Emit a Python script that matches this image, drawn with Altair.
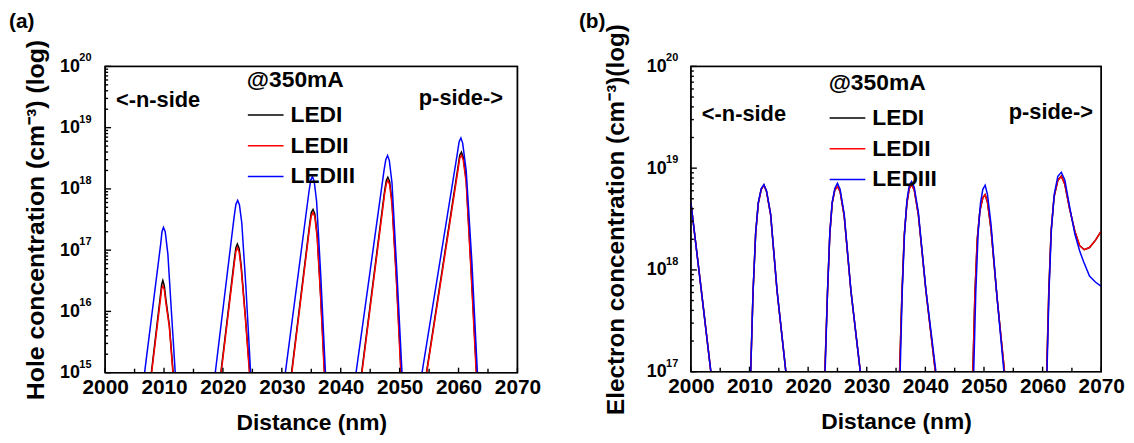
import altair as alt
import pandas as pd

FONT = "Liberation Sans"
SERIES = ["LEDI", "LEDII", "LEDIII"]
COLORS = ["#000000", "#ff0000", "#0000ff"]

# ---------------- Panel (a): hole concentration (cm^-3), one list per well ----------------
hole_x_LEDI = [
    [2007.85, 2009.4, 2009.6, 2009.8, 2010.05, 2010.3, 2010.9, 2011.55],
    [2019.65, 2021.95, 2022.2, 2022.45, 2022.75, 2023.1, 2023.8, 2024.55],
    [2031.65, 2034.75, 2035.0, 2035.3, 2035.6, 2036.0, 2036.6, 2037.25],
    [2043.55, 2047.45, 2047.75, 2048.0, 2048.3, 2048.7, 2049.45, 2050.25],
    [2054.55, 2059.9, 2060.2, 2060.5, 2060.8, 2061.3, 2062.15, 2063.05],
]
hole_y_LEDI = [
    [1e15, 1.86e16, 2.75e16, 3.2e16, 2.6e16, 1.6e16, 6.0e15, 1e15],
    [1e15, 7.2e16, 1.1e17, 1.26e17, 1.07e17, 5.6e16, 8.5e15, 1e15],
    [1e15, 2.8e17, 4.1e17, 4.6e17, 3.9e17, 1.78e17, 1.74e16, 1e15],
    [1e15, 9.3e17, 1.38e18, 1.55e18, 1.32e18, 6.3e17, 3.55e16, 1e15],
    [1e15, 2.24e18, 3.55e18, 4.0e18, 3.3e18, 1.41e18, 4.5e16, 1e15],
]
hole_x_LEDII = [
    [2007.9, 2009.4, 2009.6, 2009.8, 2010.05, 2010.3, 2010.9, 2011.5],
    [2019.7, 2021.95, 2022.2, 2022.45, 2022.75, 2023.1, 2023.8, 2024.5],
    [2031.7, 2034.75, 2035.0, 2035.3, 2035.6, 2036.0, 2036.6, 2037.2],
    [2043.6, 2047.45, 2047.75, 2048.0, 2048.3, 2048.7, 2049.45, 2050.2],
    [2054.6, 2059.9, 2060.2, 2060.5, 2060.8, 2061.3, 2062.15, 2063.0],
]
hole_y_LEDII = [
    [1e15, 1.6e16, 2.35e16, 2.6e16, 2.25e16, 1.4e16, 5.6e15, 1e15],
    [1e15, 6.3e16, 9.5e16, 1.1e17, 9.3e16, 5.0e16, 7.9e15, 1e15],
    [1e15, 2.5e17, 3.6e17, 4.1e17, 3.5e17, 1.6e17, 1.6e16, 1e15],
    [1e15, 8.3e17, 1.23e18, 1.38e18, 1.17e18, 5.6e17, 3.2e16, 1e15],
    [1e15, 2.0e18, 3.16e18, 3.55e18, 2.95e18, 1.26e18, 4.0e16, 1e15],
]
hole_x_LEDIII = [
    [2006.7, 2009.45, 2009.65, 2009.9, 2010.2, 2010.65, 2011.2, 2011.9],
    [2018.7, 2021.9, 2022.2, 2022.5, 2022.8, 2023.2, 2023.9, 2024.7],
    [2030.6, 2034.6, 2034.9, 2035.2, 2035.5, 2035.9, 2036.6, 2037.4],
    [2042.6, 2047.35, 2047.65, 2047.95, 2048.25, 2048.7, 2049.5, 2050.4],
    [2053.8, 2059.75, 2060.1, 2060.4, 2060.7, 2061.3, 2062.25, 2063.2],
]
hole_y_LEDIII = [
    [1e15, 1.3e17, 2.0e17, 2.35e17, 2.0e17, 8.7e16, 1.2e16, 1e15],
    [1e15, 3.5e17, 5.6e17, 6.5e17, 5.5e17, 2.8e17, 2.5e16, 1e15],
    [1e15, 8.9e17, 1.38e18, 1.6e18, 1.32e18, 6.3e17, 4.0e16, 1e15],
    [1e15, 2.0e18, 3.0e18, 3.5e18, 2.9e18, 1.26e18, 5.0e16, 1e15],
    [1e15, 3.55e18, 5.9e18, 6.8e18, 5.6e18, 2.0e18, 6.8e16, 1e15],
]

# ---------------- Panel (b): electron concentration (cm^-3), one list per well ----------------
elec_x_LEDI = [
    [2000.0, 2001.75, 2003.4],
    [2010.2, 2010.6, 2011.05, 2011.5, 2012.0, 2012.46, 2012.9, 2013.6, 2014.7, 2016.2],
    [2022.85, 2023.3, 2023.7, 2024.1, 2024.55, 2025.0, 2025.45, 2026.15, 2027.3, 2028.9],
    [2035.6, 2036.0, 2036.4, 2036.85, 2037.25, 2037.65, 2038.1, 2038.8, 2040.1, 2041.7],
    [2048.1, 2048.45, 2048.85, 2049.3, 2049.8, 2050.2, 2050.6, 2051.2, 2052.25, 2053.5],
    [2060.7, 2061.05, 2061.45, 2061.95, 2062.6, 2063.2, 2063.8, 2064.6, 2065.5, 2066.3, 2067.1, 2068.0, 2069.0, 2070.0],
]
elec_y_LEDI = [
    [4.6e18, 6.5e17, 1e17],
    [1e17, 6.0e17, 2.3e18, 4.5e18, 6.2e18, 6.8e18, 5.9e18, 3.5e18, 6.2e17, 1e17],
    [1e17, 5.9e17, 2.25e18, 4.5e18, 6.1e18, 6.6e18, 5.9e18, 3.4e18, 6.2e17, 1e17],
    [1e17, 5.8e17, 2.2e18, 4.5e18, 6.3e18, 6.9e18, 6.1e18, 3.5e18, 6.2e17, 1e17],
    [1e17, 5.8e17, 2.0e18, 3.8e18, 5.1e18, 5.5e18, 4.6e18, 2.5e18, 5.2e17, 1e17],
    [1e17, 6.0e17, 2.4e18, 5.2e18, 7.6e18, 8.4e18, 6.9e18, 4.0e18, 2.4e18, 1.74e18, 1.58e18, 1.66e18, 1.95e18, 2.4e18],
]
elec_x_LEDII = elec_x_LEDI
elec_y_LEDII = [
    [4.6e18, 6.5e17, 1e17],
    [1e17, 6.0e17, 2.3e18, 4.5e18, 6.2e18, 6.8e18, 5.9e18, 3.5e18, 6.2e17, 1e17],
    [1e17, 5.9e17, 2.25e18, 4.5e18, 6.1e18, 6.6e18, 5.9e18, 3.4e18, 6.2e17, 1e17],
    [1e17, 5.8e17, 2.2e18, 4.5e18, 6.3e18, 6.9e18, 6.1e18, 3.5e18, 6.2e17, 1e17],
    [1e17, 5.8e17, 2.0e18, 3.8e18, 5.1e18, 5.5e18, 4.6e18, 2.5e18, 5.2e17, 1e17],
    [1e17, 6.0e17, 2.4e18, 5.2e18, 7.6e18, 8.3e18, 6.9e18, 4.0e18, 2.4e18, 1.74e18, 1.58e18, 1.66e18, 1.95e18, 2.4e18],
]
elec_x_LEDIII = [
    [2000.0, 2001.75, 2003.4],
    [2010.2, 2010.6, 2011.05, 2011.5, 2012.0, 2012.46, 2012.9, 2013.6, 2014.7, 2016.2],
    [2022.9, 2023.3, 2023.7, 2024.1, 2024.55, 2025.0, 2025.45, 2026.15, 2027.3, 2028.9],
    [2035.7, 2036.05, 2036.45, 2036.85, 2037.25, 2037.65, 2038.1, 2038.8, 2040.1, 2041.8],
    [2048.25, 2048.6, 2049.0, 2049.4, 2049.8, 2050.2, 2050.6, 2051.2, 2052.2, 2053.4],
    [2060.75, 2061.1, 2061.5, 2062.0, 2062.6, 2063.2, 2063.8, 2064.6, 2065.5, 2066.3, 2067.0, 2068.0, 2069.0, 2070.0],
]
elec_y_LEDIII = [
    [4.6e18, 6.5e17, 1e17],
    [1e17, 6.0e17, 2.3e18, 4.6e18, 6.3e18, 6.9e18, 6.0e18, 3.55e18, 6.3e17, 1e17],
    [1e17, 6.0e17, 2.3e18, 4.6e18, 6.3e18, 7.1e18, 6.2e18, 3.55e18, 6.3e17, 1e17],
    [1e17, 6.0e17, 2.3e18, 4.8e18, 6.8e18, 7.4e18, 6.5e18, 3.7e18, 6.3e17, 1e17],
    [1e17, 6.0e17, 2.3e18, 4.5e18, 6.2e18, 6.8e18, 5.5e18, 2.8e18, 5.6e17, 1e17],
    [1e17, 6.3e17, 2.5e18, 5.6e18, 8.3e18, 9.1e18, 7.6e18, 4.2e18, 2.25e18, 1.55e18, 1.2e18, 8.7e17, 7.6e17, 6.9e17],
]

# ---------------- annotations and tick labels ----------------
notes_a_text = ["<-n-side", "p-side->"]
notes_a_x = [2009.0, 2060.4]
notes_a_y = [2.17e19, 2.34e19]
notes_b_text = ["<-n-side", "p-side->"]
notes_b_x = [2009.05, 2061.4]
notes_b_y = [2.91e19, 3.05e19]

panel_labels = ["(a)", "(b)"]
x_ticks_major = [2000, 2010, 2020, 2030, 2040, 2050, 2060, 2070]
x_ticks_minor = [2005, 2015, 2025, 2035, 2045, 2055, 2065]
exp_a_values = [1e15, 1e16, 1e17, 1e18, 1e19, 1e20]
exp_a_text = ["15", "16", "17", "18", "19", "20"]
exp_b_values = [1e17, 1e18, 1e19, 1e20]
exp_b_text = ["17", "18", "19", "20"]
X0, X1 = 2000, 2070


def build_df(xs_map, ys_map):
    rows = []
    for s in SERIES:
        for k, (xs, ys) in enumerate(zip(xs_map[s], ys_map[s])):
            for xv, yv in zip(xs, ys):
                rows.append({"x": xv, "y": yv, "series": s, "seg": f"{s}-{k}"})
    return pd.DataFrame(rows)


def deco_df(ymin, ymax, width, height):
    """Plot frame and inward tick marks as short polylines in data space."""
    lo, hi = 10.0 ** ymin, 10.0 ** ymax
    px_per_decade = height / (ymax - ymin)
    nm_per_px = (X1 - X0) / width
    rows = []
    frame = [(X0, lo), (X0, hi), (X1, hi), (X1, lo), (X0, lo)]
    for i, (xv, yv) in enumerate(frame):
        rows.append({"x": xv, "y": yv, "id": "frame", "i": i})
    for v in x_ticks_major + x_ticks_minor:
        L = 5 if v in x_ticks_major else 4
        rows.append({"x": v, "y": lo, "id": f"xt{v}", "i": 0})
        rows.append({"x": v, "y": lo * 10 ** (L / px_per_decade), "id": f"xt{v}", "i": 1})
    for e in range(ymin, ymax + 1):
        for m in range(1, 10):
            v = m * 10.0 ** e
            if v > hi * 1.0001:
                break
            L = 6 if m == 1 else 3
            rows.append({"x": X0, "y": v, "id": f"yt{e}_{m}", "i": 0})
            rows.append({"x": X0 + L * nm_per_px, "y": v, "id": f"yt{e}_{m}", "i": 1})
    return pd.DataFrame(rows)


def panel(df, notes, exps, ymin, ymax, ytitle, ytitle_size, label, width, height,
          label_dx, legend_x, legend_y, ytitle_pad, ylab_pad):
    y_major = [10.0 ** e for e in range(ymin, ymax + 1)]
    ex = "round(log(datum.value)/LN10)"
    label_expr = f"abs(log(datum.value)/LN10 - {ex}) > 0.02 ? '' : '10'"

    xscale = alt.Scale(domain=[X0, X1], nice=False, zero=False)
    yscale = alt.Scale(type="log", domain=[10.0 ** ymin, 10.0 ** ymax], nice=False)
    xenc = alt.X(
        "x:Q", scale=xscale,
        axis=alt.Axis(
            values=x_ticks_major, format="d",
            title="Distance (nm)", titleFontSize=23, titlePadding=14,
            labelFontSize=21, labelPadding=4, labelFlush=False, labelOverlap=False,
            labelFont=FONT, titleFont=FONT, labelFontWeight="bold", titleFontWeight="bold",
            labelColor="black", titleColor="black",
            ticks=False, domain=False, grid=False,
        ),
    )
    yenc = alt.Y(
        "y:Q", scale=yscale,
        axis=alt.Axis(
            values=y_major, labelExpr=label_expr,
            title=ytitle, titleFontSize=ytitle_size, titlePadding=ytitle_pad,
            labelFontSize=18, labelPadding=ylab_pad, labelFlush=False, labelOverlap=False,
            labelFont=FONT, titleFont=FONT, labelFontWeight="bold", titleFontWeight="bold",
            labelColor="black", titleColor="black",
            ticks=False, domain=False, grid=False,
        ),
    )
    deco = deco_df(ymin, ymax, width, height)
    deco_lines = alt.Chart(deco).mark_line(color="black", strokeWidth=1.4).encode(
        x="x:Q", y="y:Q", detail="id:N", order="i:Q",
    )
    lines = alt.Chart(df).mark_line(strokeWidth=1.5).encode(
        x=xenc, y=yenc,
        color=alt.Color(
            "series:N",
            scale=alt.Scale(domain=SERIES, range=COLORS),
            legend=alt.Legend(
                orient="none", legendX=legend_x, legendY=legend_y,
                title="@350mA", titleFontSize=23, titleFont=FONT, titleFontWeight="bold",
                titleColor="black", titlePadding=4,
                labelFontSize=23, labelFont=FONT, labelFontWeight="bold", labelColor="black",
                labelOffset=6, symbolType="stroke", symbolSize=1296, symbolStrokeWidth=1.5,
                rowPadding=-5, padding=0,
            ),
        ),
        detail="seg:N",
    )
    text = alt.Chart(notes).mark_text(
        font=FONT, fontSize=22, fontWeight="bold", color="black",
        align="center", baseline="alphabetic",
    ).encode(x="x:Q", y="y:Q", text="t:N")
    sups = alt.Chart(exps).mark_text(
        font=FONT, fontSize=11, fontWeight="bold", color="black",
        align="left", baseline="middle", dy=-8,
    ).encode(x=alt.value(-ylab_pad), y="v:Q", text="t:N")
    lab = alt.Chart(pd.DataFrame({"t": [label]})).mark_text(
        font=FONT, fontSize=21, fontWeight="bold", color="black",
        align="left", baseline="alphabetic",
    ).encode(x=alt.value(label_dx), y=alt.value(-39), text="t:N")
    return alt.layer(lines, deco_lines, text, sups, lab).properties(
        width=width, height=height,
    )


df_a = build_df(
    {"LEDI": hole_x_LEDI, "LEDII": hole_x_LEDII, "LEDIII": hole_x_LEDIII},
    {"LEDI": hole_y_LEDI, "LEDII": hole_y_LEDII, "LEDIII": hole_y_LEDIII},
)
df_b = build_df(
    {"LEDI": elec_x_LEDI, "LEDII": elec_x_LEDII, "LEDIII": elec_x_LEDIII},
    {"LEDI": elec_y_LEDI, "LEDII": elec_y_LEDII, "LEDIII": elec_y_LEDIII},
)
notes_a = pd.DataFrame({"t": notes_a_text, "x": notes_a_x, "y": notes_a_y})
notes_b = pd.DataFrame({"t": notes_b_text, "x": notes_b_x, "y": notes_b_y})
exps_a = pd.DataFrame({"t": exp_a_text, "v": exp_a_values})
exps_b = pd.DataFrame({"t": exp_b_text, "v": exp_b_values})

pa = panel(df_a, notes_a, exps_a, 15, 20, "Hole concentration (cm⁻³) (log)", 25, panel_labels[0],
           416, 309, -97, 143, 3, 11, 26)
pb = panel(df_b, notes_b, exps_b, 17, 20, "Electron concentration (cm⁻³)(log)", 24.5, panel_labels[1],
           414, 308, -113, 139, 6, 18, 25)

chart = alt.hconcat(pa, pb, spacing=36).resolve_scale(
    color="independent"
).properties(
    padding={"left": 0, "top": 0, "right": 0, "bottom": 0}
).configure_view(
    stroke="black", strokeWidth=1.5
)

chart.save("out.html", embed_options={"renderer": "svg", "actions": False})
